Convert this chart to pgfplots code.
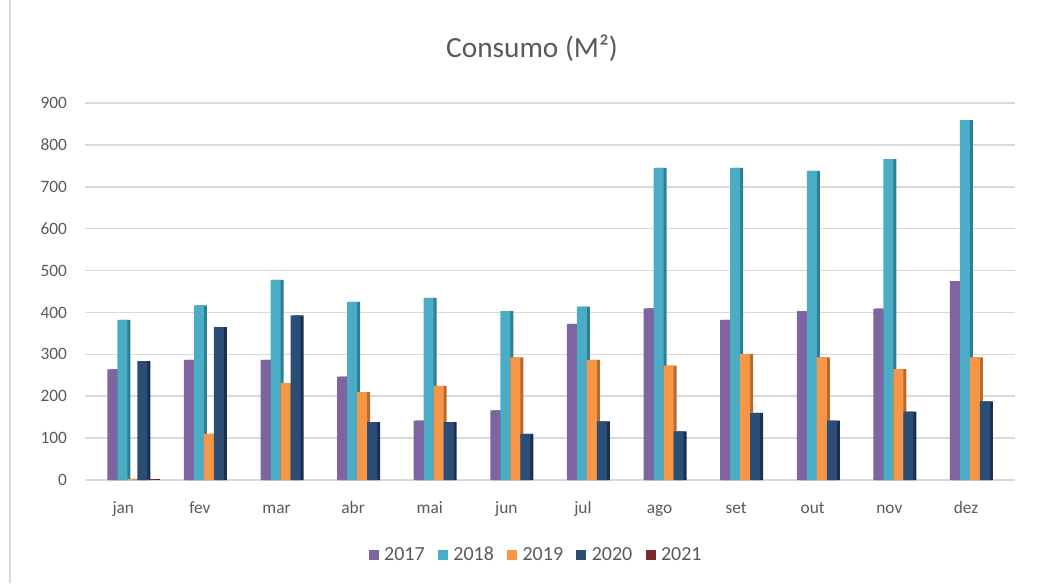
\documentclass[border=0pt]{standalone}
\usepackage{pgfplots}
\usepackage{pgfplotstable}
\pgfplotsset{compat=1.18}
\usepackage{fontspec}
\setmainfont{Carlito}
\definecolor{txt}{HTML}{595959}
\definecolor{gridc}{HTML}{D9D9D9}
\definecolor{c17}{HTML}{8064A2}
\definecolor{c18}{HTML}{4BACC6}
\definecolor{c19}{HTML}{F79646}
\definecolor{c20}{HTML}{2C4D75}
\definecolor{c21}{HTML}{772C2A}
\definecolor{s17}{HTML}{5C4878}
\definecolor{s18}{HTML}{2F7F94}
\definecolor{s19}{HTML}{B86A2A}
\definecolor{s20}{HTML}{1A3050}
\definecolor{s21}{HTML}{4F1B1A}
\pgfplotstableread{
x y17 y18 y19 y20 y21
0 264 382 3 284 2
1 287 417 110 365 nan
2 287 478 231 393 nan
3 247 425 210 138 nan
4 142 435 225 138 nan
5 166 403 293 110 nan
6 373 414 287 140 nan
7 410 745 273 116 nan
8 382 745 301 160 nan
9 403 738 293 142 nan
10 409 766 265 163 nan
11 475 859 293 188 nan
}\data
\begin{document}
\begin{tikzpicture}
\path[use as bounding box] (0pt,0pt) rectangle (789pt,437.25pt);
\draw[gridc, line width=1pt] (7.5pt,0pt) -- (7.5pt,437.25pt);
\node[text=txt, font=\fontsize{22}{26}\selectfont] at (399pt,401.25pt) {Consumo (M²)};
\begin{axis}[
  at={(63.75pt,77.25pt)}, anchor=south west,
  scale only axis, width=697.5pt, height=282.75pt,
  xmin=-0.5, xmax=11.64, ymin=0, ymax=900,
  axis line style={draw=none},
  ymajorgrids, grid style={gridc, line width=1.1pt},
  ytick={0,100,...,900},
  xtick={0,...,11},
  xticklabels={jan,fev,mar,abr,mai,jun,jul,ago,set,out,nov,dez},
  major tick length=0pt,
  ticklabel style={text=txt, font=\fontsize{13}{15}\selectfont},
  xticklabel style={anchor=base, yshift=-25pt},
  yticklabel style={xshift=-10pt},
  /pgf/number format/assume math mode=true,
  unbounded coords=discard,
  ybar, bar width=7.5pt,
  legend style={at={(0.4855,-0.199)}, anchor=center, draw=none, fill=none,
    font=\fontsize{15}{17}\selectfont, text=txt,
    /tikz/every odd column/.append style={column sep=2pt},
    /tikz/every even column/.append style={column sep=8pt}},
  legend columns=5,
  legend image code/.code={\fill[#1] (0pt,-3.75pt) rectangle (7.5pt,3.75pt);},
]
% side faces (3D look)
\addplot[fill=s17, draw=none, bar shift=-6pt, forget plot] table[x=x,y=y17]{\data};
\addplot[fill=s18, draw=none, bar shift=1.5pt, forget plot] table[x=x,y=y18]{\data};
\addplot[fill=s19, draw=none, bar shift=9pt, forget plot] table[x=x,y=y19]{\data};
\addplot[fill=s20, draw=none, bar shift=16.5pt, forget plot] table[x=x,y=y20]{\data};
\addplot[fill=s21, draw=none, bar shift=24pt, forget plot] table[x=x,y=y21]{\data};
% front faces
\addplot[fill=c17, draw=none, bar shift=-8.25pt] table[x=x,y=y17]{\data};
\addplot[fill=c18, draw=none, bar shift=-0.75pt] table[x=x,y=y18]{\data};
\addplot[fill=c19, draw=none, bar shift=6.75pt] table[x=x,y=y19]{\data};
\addplot[fill=c20, draw=none, bar shift=14.25pt] table[x=x,y=y20]{\data};
\addplot[fill=c21, draw=none, bar shift=21.75pt] table[x=x,y=y21]{\data};
\legend{2017,2018,2019,2020,2021}
\end{axis}
\end{tikzpicture}
\end{document}
